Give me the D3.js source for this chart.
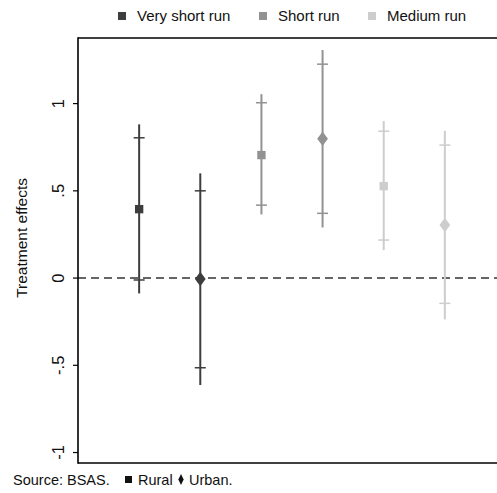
<!DOCTYPE html>
<html>
<head>
<meta charset="utf-8">
<script src="https://cdn.jsdelivr.net/npm/d3@7"></script>
<style>
  html, body { margin: 0; padding: 0; background: #fff; overflow: hidden; }
  svg { display: block; overflow: hidden; font-family: "Liberation Sans", Arial, sans-serif; }
</style>
</head>
<body>
<svg id="chart" width="497" height="493"></svg>
<script>
// Estimates by horizon and area
const horizons  = ["Very short run", "Very short run", "Short run", "Short run", "Medium run", "Medium run"];
const areas     = ["Rural", "Urban", "Rural", "Urban", "Rural", "Urban"];
const estimates = [0.395, -0.005, 0.705, 0.798, 0.527, 0.304];
const ci95Low   = [-0.088, -0.613, 0.365, 0.290, 0.160, -0.237];
const ci95High  = [0.881, 0.600, 1.054, 1.307, 0.900, 0.844];
const ci90Low   = [-0.011, -0.514, 0.418, 0.371, 0.218, -0.145];
const ci90High  = [0.804, 0.500, 1.005, 1.226, 0.842, 0.762];

const legendLabels = ["Very short run", "Short run", "Medium run"];
const yTicks = [-1, -0.5, 0, 0.5, 1];
const yTickLabels = ["-1", "-.5", "0", ".5", "1"];

const colour = d3.scaleOrdinal()
  .domain(legendLabels)
  .range(["#3d3d3d", "#929292", "#cdcdcd"]);

const svg = d3.select("#chart");

const x = d3.scaleLinear().domain([0, 7]).range([78, 506]);
const y = d3.scaleLinear().domain([-1.06, 1.376]).range([463, 38]);

const rows = estimates.map((v, i) => ({
  pos: i + 1, horizon: horizons[i], area: areas[i], est: v,
  lo95: ci95Low[i], hi95: ci95High[i], lo90: ci90Low[i], hi90: ci90High[i]
}));

// Zero reference line
svg.append("line")
  .attr("x1", x(0)).attr("x2", 497)
  .attr("y1", y(0)).attr("y2", y(0))
  .attr("stroke", "#333").attr("stroke-width", 1.6)
  .attr("stroke-dasharray", "8,5");

// Confidence intervals
const g = svg.append("g");
rows.forEach(d => {
  const c = colour(d.horizon);
  const cx = x(d.pos);
  g.append("line")
    .attr("x1", cx).attr("x2", cx)
    .attr("y1", y(d.hi95)).attr("y2", y(d.lo95))
    .attr("stroke", c).attr("stroke-width", 2);
  [d.hi90, d.lo90].forEach(v => {
    g.append("line")
      .attr("x1", cx - 5.5).attr("x2", cx + 5.5)
      .attr("y1", y(v)).attr("y2", y(v))
      .attr("stroke", c).attr("stroke-width", 1.5);
  });
  const sym = d.area === "Rural" ? d3.symbolSquare : d3.symbolDiamond;
  const size = d.area === "Rural" ? 70 : 75;
  g.append("path")
    .attr("d", d3.symbol().type(sym).size(size)())
    .attr("transform", d.area === "Rural"
      ? `translate(${cx},${y(d.est)})`
      : `translate(${cx},${y(d.est)}) scale(1.15,0.9)`)
    .attr("fill", c);
});

// Frame: left, top and bottom edges (the right edge lies beyond the page)
const frame = svg.append("g").attr("stroke", "#000").attr("stroke-width", 1.6);
frame.append("line")
  .attr("x1", x(0)).attr("x2", 497)
  .attr("y1", y.range()[1]).attr("y2", y.range()[1]);
frame.append("line")
  .attr("x1", x(0)).attr("x2", 497)
  .attr("y1", y.range()[0]).attr("y2", y.range()[0]);
frame.append("line")
  .attr("x1", x(0)).attr("x2", x(0))
  .attr("y1", y.range()[1] - 0.8).attr("y2", y.range()[0] + 0.8);

// Y axis ticks with rotated labels
const yAxis = svg.append("g");
yTicks.forEach((t, i) => {
  yAxis.append("line")
    .attr("x1", x(0) - 5).attr("x2", x(0))
    .attr("y1", y(t)).attr("y2", y(t))
    .attr("stroke", "#000").attr("stroke-width", 1.2);
  yAxis.append("text")
    .attr("transform", `translate(64,${y(t)}) rotate(-90)`)
    .attr("text-anchor", "middle")
    .attr("font-size", 16.5)
    .attr("fill", "#111")
    .text(yTickLabels[i]);
});

svg.append("text")
  .attr("transform", `translate(27,${y(0.23)}) rotate(-90)`)
  .attr("text-anchor", "middle")
  .attr("font-size", 15.5)
  .attr("fill", "#111")
  .text("Treatment effects");

// Legend
const legendX = [118, 259, 368];
legendLabels.forEach((lab, i) => {
  svg.append("rect")
    .attr("x", legendX[i]).attr("y", 12)
    .attr("width", 8).attr("height", 8)
    .attr("fill", colour(lab));
  svg.append("text")
    .attr("x", legendX[i] + 19).attr("y", 21)
    .attr("font-size", 15)
    .attr("fill", "#111")
    .text(lab);
});

// Note below the plot
svg.append("text")
  .attr("x", 13).attr("y", 485)
  .attr("font-size", 14.5)
  .attr("fill", "#111")
  .text("Source: BSAS.");
svg.append("rect")
  .attr("x", 125).attr("y", 476)
  .attr("width", 7).attr("height", 7)
  .attr("fill", "#111");
svg.append("text")
  .attr("x", 138).attr("y", 485)
  .attr("font-size", 14.5)
  .attr("fill", "#111")
  .text("Rural");
svg.append("path")
  .attr("d", d3.symbol().type(d3.symbolDiamond).size(30)())
  .attr("transform", "translate(181,479.5) scale(0.9,1.1)")
  .attr("fill", "#111");
svg.append("text")
  .attr("x", 189).attr("y", 485)
  .attr("font-size", 14.5)
  .attr("fill", "#111")
  .text("Urban.");
</script>
</body>
</html>
